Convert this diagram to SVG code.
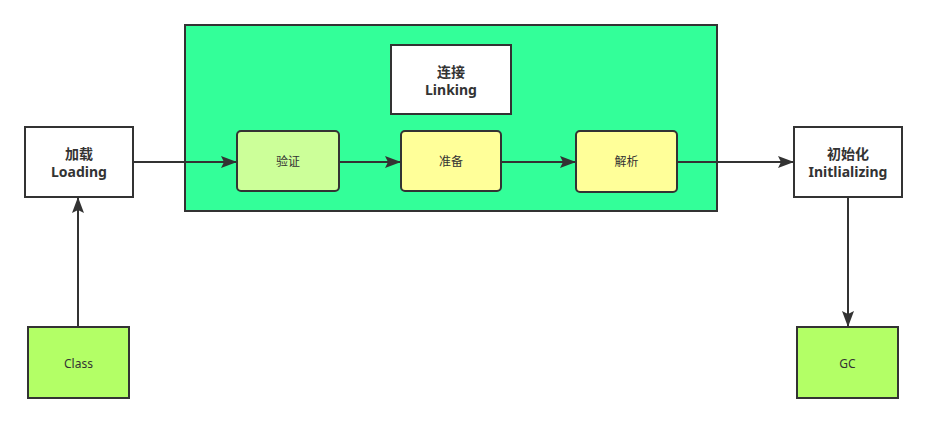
<svg xmlns="http://www.w3.org/2000/svg" width="927" height="423" viewBox="0 0 927 423">
<style>
text{font-family:"Microsoft YaHei","Noto Sans","Noto Sans CJK SC",sans-serif;fill:#333;text-anchor:middle}
.b{font-weight:bold;font-size:14px}
.n{font-size:12px}
.box{fill:#fff;stroke:#333;stroke-width:2}
.line{stroke:#333;stroke-width:2;fill:none;marker-end:url(#ah)}
</style>
<defs>
<marker id="ah" viewBox="0 0 16 12" refX="16" refY="6" markerWidth="16" markerHeight="12" markerUnits="userSpaceOnUse" orient="auto">
<path d="M0,0 L16,6 L0,12 L3,6 Z" fill="#333"/>
</marker>
</defs>
<rect width="927" height="423" fill="#fff"/>
<g id="linking-group">
<rect x="185" y="25" width="532" height="186" fill="#33FF99" stroke="#333" stroke-width="2"/>
</g>
<g id="linking">
<rect class="box" x="391" y="45" width="120" height="69"/>
<text class="b" x="451" y="77">连接</text>
<text class="b" x="451" y="95">Linking</text>
</g>
<g id="loading">
<rect class="box" x="25" y="127" width="108" height="70"/>
<text class="b" x="79" y="159">加载</text>
<text class="b" x="79" y="177">Loading</text>
</g>
<g id="verify">
<rect x="237" y="131" width="102" height="60" rx="4" fill="#CCFF99" stroke="#333" stroke-width="2"/>
<text class="n" x="288" y="166">验证</text>
</g>
<g id="prepare">
<rect x="401" y="131" width="100" height="60" rx="4" fill="#FFFF99" stroke="#333" stroke-width="2"/>
<text class="n" x="451" y="166">准备</text>
</g>
<g id="resolve">
<rect x="576" y="131" width="101" height="61" rx="4" fill="#FFFF99" stroke="#333" stroke-width="2"/>
<text class="n" x="626.5" y="166">解析</text>
</g>
<g id="init">
<rect class="box" x="794" y="127" width="108" height="70"/>
<text class="b" x="848" y="159">初始化</text>
<text class="b" x="848" y="177">Initlializing</text>
</g>
<g id="class">
<rect x="28" y="327" width="101" height="71" fill="#B3FF66" stroke="#333" stroke-width="2"/>
<text class="n" x="78.5" y="368">Class</text>
</g>
<g id="gc">
<rect x="797" y="327" width="101" height="71" fill="#B3FF66" stroke="#333" stroke-width="2"/>
<text class="n" x="847.5" y="368">GC</text>
</g>
<g id="connectors">
<path class="line" d="M78,327 V197"/>
<path class="line" d="M133,162 H237"/>
<path class="line" d="M339,162 H401"/>
<path class="line" d="M501,162 H576"/>
<path class="line" d="M677,162 H794"/>
<path class="line" d="M848,197 V327"/>
</g>
</svg>
